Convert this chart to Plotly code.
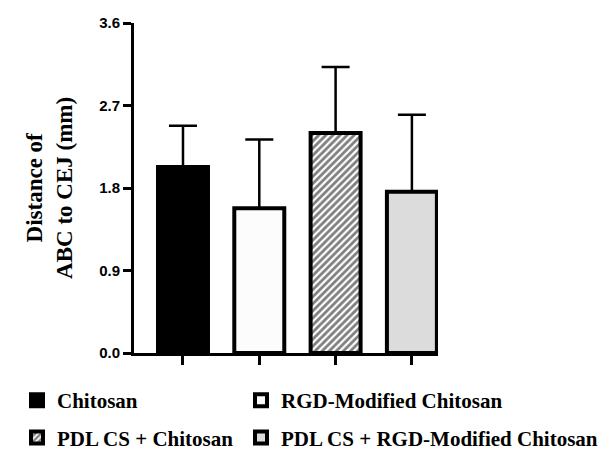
import plotly.graph_objects as go

categories = ["Chitosan", "RGD-Modified Chitosan", "PDL CS + Chitosan", "PDL CS + RGD-Modified Chitosan"]
means = [2.03, 1.58, 2.40, 1.76]
err_up = [0.45, 0.75, 0.72, 0.84]
fills = ["#000000", "#fcfcfc", "#ffffff", "#dcdcdc"]
patterns = [None, None, "/", None]
legends = ["legend", "legend2", "legend", "legend2"]
y_ticks = [0.0, 0.9, 1.8, 2.7, 3.6]

fig = go.Figure()
for i, name in enumerate(categories):
    marker = dict(color=fills[i], line=dict(color="#000000", width=4))
    if patterns[i]:
        marker["pattern"] = dict(shape=patterns[i], fgcolor="black", bgcolor="white",
                                 size=5, solidity=0.55)
    fig.add_trace(go.Bar(
        x=[i], y=[means[i]], name=name,
        width=0.655,
        marker=marker,
        error_y=dict(type="data", symmetric=False, array=[err_up[i]], arrayminus=[0],
                     color="black", thickness=2.5, width=14),
        legend=legends[i], legendgroup=name,
    ))

leg_font = dict(family="Liberation Serif", size=21, color="black", weight="bold")
fig.update_layout(
    width=598, height=458,
    margin=dict(l=134, r=160, t=23, b=105, autoexpand=False),
    plot_bgcolor="white", paper_bgcolor="white",
    barmode="overlay",
    legend=dict(xref="container", yref="container", x=0.0284, y=0.17,
                xanchor="left", yanchor="top", font=leg_font, tracegroupgap=7,
                bgcolor="rgba(0,0,0,0)"),
    legend2=dict(xref="container", yref="container", x=0.403, y=0.17,
                 xanchor="left", yanchor="top", font=leg_font, tracegroupgap=7,
                 bgcolor="rgba(0,0,0,0)"),
    xaxis=dict(range=[-0.642, 3.342], tickvals=list(range(len(categories))),
               showticklabels=False, automargin=False,
               showline=True, linecolor="black", linewidth=3,
               ticks="outside", ticklen=9, tickwidth=3, tickcolor="black",
               showgrid=False, zeroline=False),
    yaxis=dict(range=[0, 3.6], tickvals=y_ticks, tickformat=".1f", automargin=False,
               showline=True, linecolor="black", linewidth=3,
               ticks="outside", ticklen=8, tickwidth=3, tickcolor="black",
               showgrid=False, zeroline=False,
               tickfont=dict(family="Liberation Sans", size=15, color="black", weight="bold")),
    annotations=[dict(text="Distance of<br>ABC to CEJ (mm)", xref="paper", yref="paper",
                      x=-0.28, y=0.5, xanchor="center", yanchor="middle", textangle=-90,
                      showarrow=False,
                      font=dict(family="Liberation Serif", size=23, color="black", weight="bold"))],
)
fig.write_html("out.html", config={"displayModeBar": False},
               post_script="document.body.style.margin='0px';")
